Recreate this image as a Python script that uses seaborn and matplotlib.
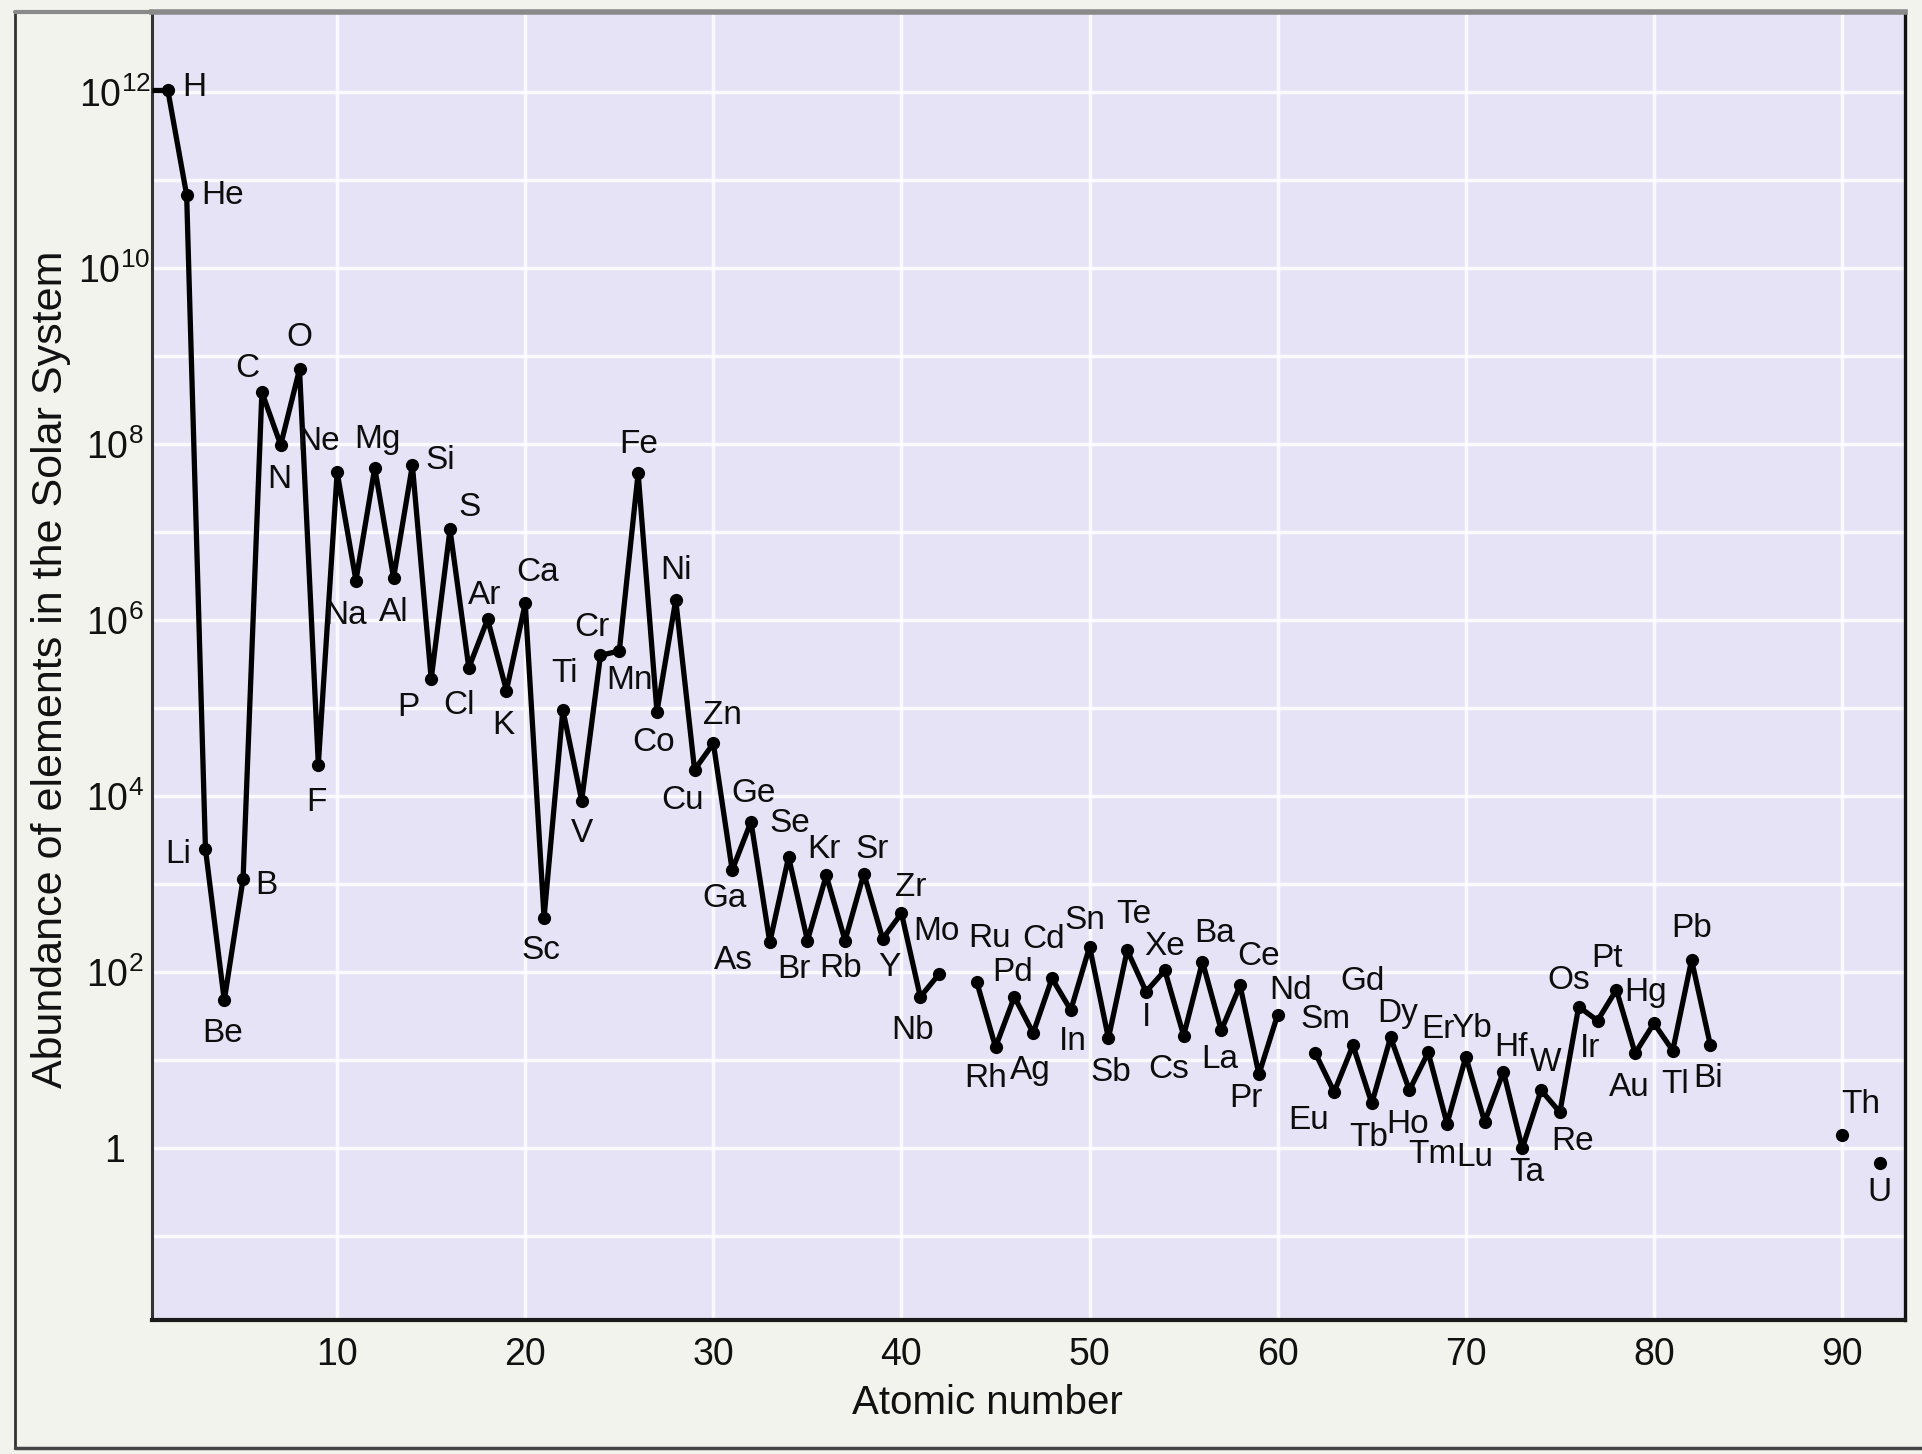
import numpy as np
import pandas as pd
import matplotlib

matplotlib.use("Agg")
import matplotlib.pyplot as plt
from matplotlib.lines import Line2D
import seaborn as sns

# Element symbols, atomic numbers and log10 abundance (H = 10^12)
symbols = [
    "H", "He", "Li", "Be", "B", "C", "N", "O", "F", "Ne",
    "Na", "Mg", "Al", "Si", "P", "S", "Cl", "Ar", "K", "Ca",
    "Sc", "Ti", "V", "Cr", "Mn", "Fe", "Co", "Ni", "Cu", "Zn",
    "Ga", "Ge", "As", "Se", "Br", "Kr", "Rb", "Sr", "Y", "Zr",
    "Nb", "Mo",
    "Ru", "Rh", "Pd", "Ag", "Cd", "In", "Sn", "Sb", "Te", "I",
    "Xe", "Cs", "Ba", "La", "Ce", "Pr", "Nd",
    "Sm", "Eu", "Gd", "Tb", "Dy", "Ho", "Er", "Tm", "Yb", "Lu",
    "Hf", "Ta", "W", "Re", "Os", "Ir", "Pt", "Au", "Hg", "Tl",
    "Pb", "Bi",
    "Th", "U",
]
atomic_number = (
    list(range(1, 43)) + list(range(44, 61)) + list(range(62, 84)) + [90, 92]
)
log_abundance = [
    12.02, 10.83, 3.40, 1.68, 3.06, 8.59, 7.99, 8.85, 4.36, 7.68,
    6.45, 7.73, 6.48, 7.76, 5.33, 7.03, 5.46, 6.01, 5.20, 6.19,
    2.62, 4.98, 3.95, 5.60, 5.65, 7.67, 4.96, 6.23, 4.30, 4.60,
    3.16, 3.71, 2.34, 3.31, 2.36, 3.10, 2.36, 3.12, 2.38, 2.67,
    1.72, 1.98,
    1.89, 1.15, 1.72, 1.31, 1.93, 1.57, 2.29, 1.25, 2.25, 1.78,
    2.02, 1.28, 2.12, 1.34, 1.85, 0.84, 1.52,
    1.08, 0.64, 1.17, 0.51, 1.26, 0.66, 1.09, 0.28, 1.04, 0.30,
    0.87, 0.00, 0.66, 0.41, 1.61, 1.45, 1.80, 1.08, 1.42, 1.11,
    2.14, 1.17,
    0.15, -0.17,
]
x_ticks = [10, 20, 30, 40, 50, 60, 70, 80, 90]
y_tick_exponents = [0, 2, 4, 6, 8, 10, 12]

# label placement relative to its point, pixels (right, down)
label_offsets = {
    "H": (26, -3), "He": (36, 0), "Li": (-27, 5), "Be": (-2, 33), "B": (23, 7),
    "C": (-15, -24), "N": (-1, 35), "O": (0, -32), "F": (-2, 38), "Ne": (-19, -31),
    "Na": (-10, 35), "Mg": (3, -28), "Al": (0, 35), "Si": (28, -5), "P": (-23, 28),
    "S": (20, -22), "Cl": (-10, 38), "Ar": (-3, -24), "K": (-3, 35), "Ca": (12, -31),
    "Sc": (-3, 33), "Ti": (2, -36), "V": (0, 33), "Cr": (-9, -28), "Mn": (10, 30),
    "Fe": (1, -29), "Co": (-3, 31), "Ni": (0, -29), "Cu": (-12, 31), "Zn": (9, -28),
    "Ga": (-8, 28), "Ge": (3, -28), "As": (-36, 18), "Se": (1, -33), "Br": (-13, 29),
    "Kr": (-2, -26), "Rb": (-4, 28), "Sr": (8, -24), "Y": (7, 29), "Zr": (9, -26),
    "Nb": (-8, 34), "Mo": (-3, -43), "Ru": (13, -43), "Rh": (-10, 31), "Pd": (-2, -24),
    "Ag": (-3, 38), "Cd": (-8, -39), "In": (2, 31), "Sn": (-5, -26), "Sb": (2, 34),
    "Te": (7, -36), "I": (0, 26), "Xe": (0, -24), "Cs": (-15, 34), "Ba": (12, -28),
    "La": (-2, 29), "Ce": (18, -29), "Pr": (-13, 24), "Nd": (13, -24), "Sm": (10, -34),
    "Eu": (-26, 29), "Gd": (10, -64), "Tb": (-3, 34), "Dy": (7, -24), "Ho": (-2, 34),
    "Er": (10, -23), "Tm": (-15, 31), "Yb": (6, -28), "Lu": (-10, 36), "Hf": (8, -24),
    "Ta": (5, 24), "W": (5, -28), "Re": (13, 29), "Os": (-10, -26), "Ir": (-7, 28),
    "Pt": (-9, -31), "Au": (-6, 34), "Hg": (-8, -31), "Tl": (2, 34), "Pb": (0, -31),
    "Bi": (-2, 33), "Th": (19, -31), "U": (0, 29),
}

FONT = "Liberation Sans"
PAGE = "#f3f3ee"
PANEL = "#e7e3f6"

sns.set_style("white")
plt.rcParams["font.family"] = [FONT, "DejaVu Sans"]
plt.rcParams["mathtext.fontset"] = "custom"
plt.rcParams["mathtext.rm"] = FONT
plt.rcParams["mathtext.it"] = FONT

df = pd.DataFrame({"symbol": symbols, "Z": atomic_number, "logA": log_abundance})
df["abundance"] = 10.0 ** df["logA"]
# break the line where atomic numbers are skipped (Tc, Pm, ...)
df["segment"] = (df["Z"].diff().fillna(1) > 1).cumsum()

fig = plt.figure(figsize=(19.22, 14.54), dpi=100)
fig.patch.set_facecolor(PAGE)
ax = fig.add_axes([0.0791, 0.0922, 0.9121, 0.8996])
ax.set_facecolor(PANEL)

ax.set_yscale("log")
x_left, x_right = 0.16, 93.35
ax.set_xlim(x_left, x_right)
ax.set_ylim(10 ** -1.95, 10 ** 12.91)

# faint white grid of the printed page
for gx in x_ticks:
    ax.axvline(gx, color="white", lw=2.5, alpha=0.8, zorder=0)
for gy in range(-1, 13):
    ax.axhline(10.0 ** gy, color="white", lw=2.5, alpha=0.8, zorder=0)

sns.lineplot(
    data=df, x="Z", y="abundance", units="segment", estimator=None,
    color="black", lw=3.8, marker="o", markersize=9.5, markeredgewidth=0,
    legend=False, ax=ax, zorder=3,
)
# H drawn from the axis edge
ax.hlines(df["abundance"].iloc[0], x_left, df["Z"].iloc[0], color="black", lw=3.8, zorder=3)

for _, row in df.iterrows():
    dx, dy = label_offsets[row["symbol"]]
    ax.annotate(
        row["symbol"], (row["Z"], row["abundance"]),
        xytext=(dx, -dy), textcoords="offset pixels",
        ha="center", va="center", fontsize=24, color="#0d0d0d", zorder=4,
    )

ax.set_xticks(x_ticks)
ax.set_xticklabels([str(t) for t in x_ticks])
ax.set_yticks([10.0 ** e for e in y_tick_exponents])
ax.set_yticklabels(["1" if e == 0 else rf"$\mathrm{{10^{{{e}}}}}$" for e in y_tick_exponents])
ax.minorticks_off()
ax.tick_params(axis="x", length=0, pad=12, labelsize=27, labelcolor="#111111")
ax.tick_params(axis="y", length=0, pad=27, labelsize=27, labelcolor="#111111")
for lab in ax.get_yticklabels():
    lab.set_ha("center")

ax.set_xlabel("Atomic number", fontsize=29, color="#111111")
ax.xaxis.set_label_coords(0.4766, -0.0635)
ax.xaxis.label.set_va("center")
ax.set_ylabel("Abundance of elements in the Solar System", fontsize=31, color="#111111")
ax.yaxis.set_label_coords(-0.0576, 0.4977)
ax.yaxis.label.set_va("center")

for side, col, width in [("left", "#333333", 2.2), ("bottom", "#1a1a1a", 3.0),
                         ("right", "#111111", 2.4), ("top", "#8a8a8a", 4.0)]:
    ax.spines[side].set_visible(True)
    ax.spines[side].set_color(col)
    ax.spines[side].set_linewidth(width)

# edges of the scanned page
fig.add_artist(Line2D([15 / 1922, 15 / 1922], [6 / 1454, 1 - 12 / 1454],
                      transform=fig.transFigure, color="#333333", lw=2))
fig.add_artist(Line2D([15 / 1922, 1], [6 / 1454, 6 / 1454],
                      transform=fig.transFigure, color="#444444", lw=2.5))
fig.add_artist(Line2D([15 / 1922, 152 / 1922], [1 - 12 / 1454, 1 - 12 / 1454],
                      transform=fig.transFigure, color="#8a8a8a", lw=3))

fig.savefig("out.png", dpi=100, facecolor=fig.get_facecolor())
